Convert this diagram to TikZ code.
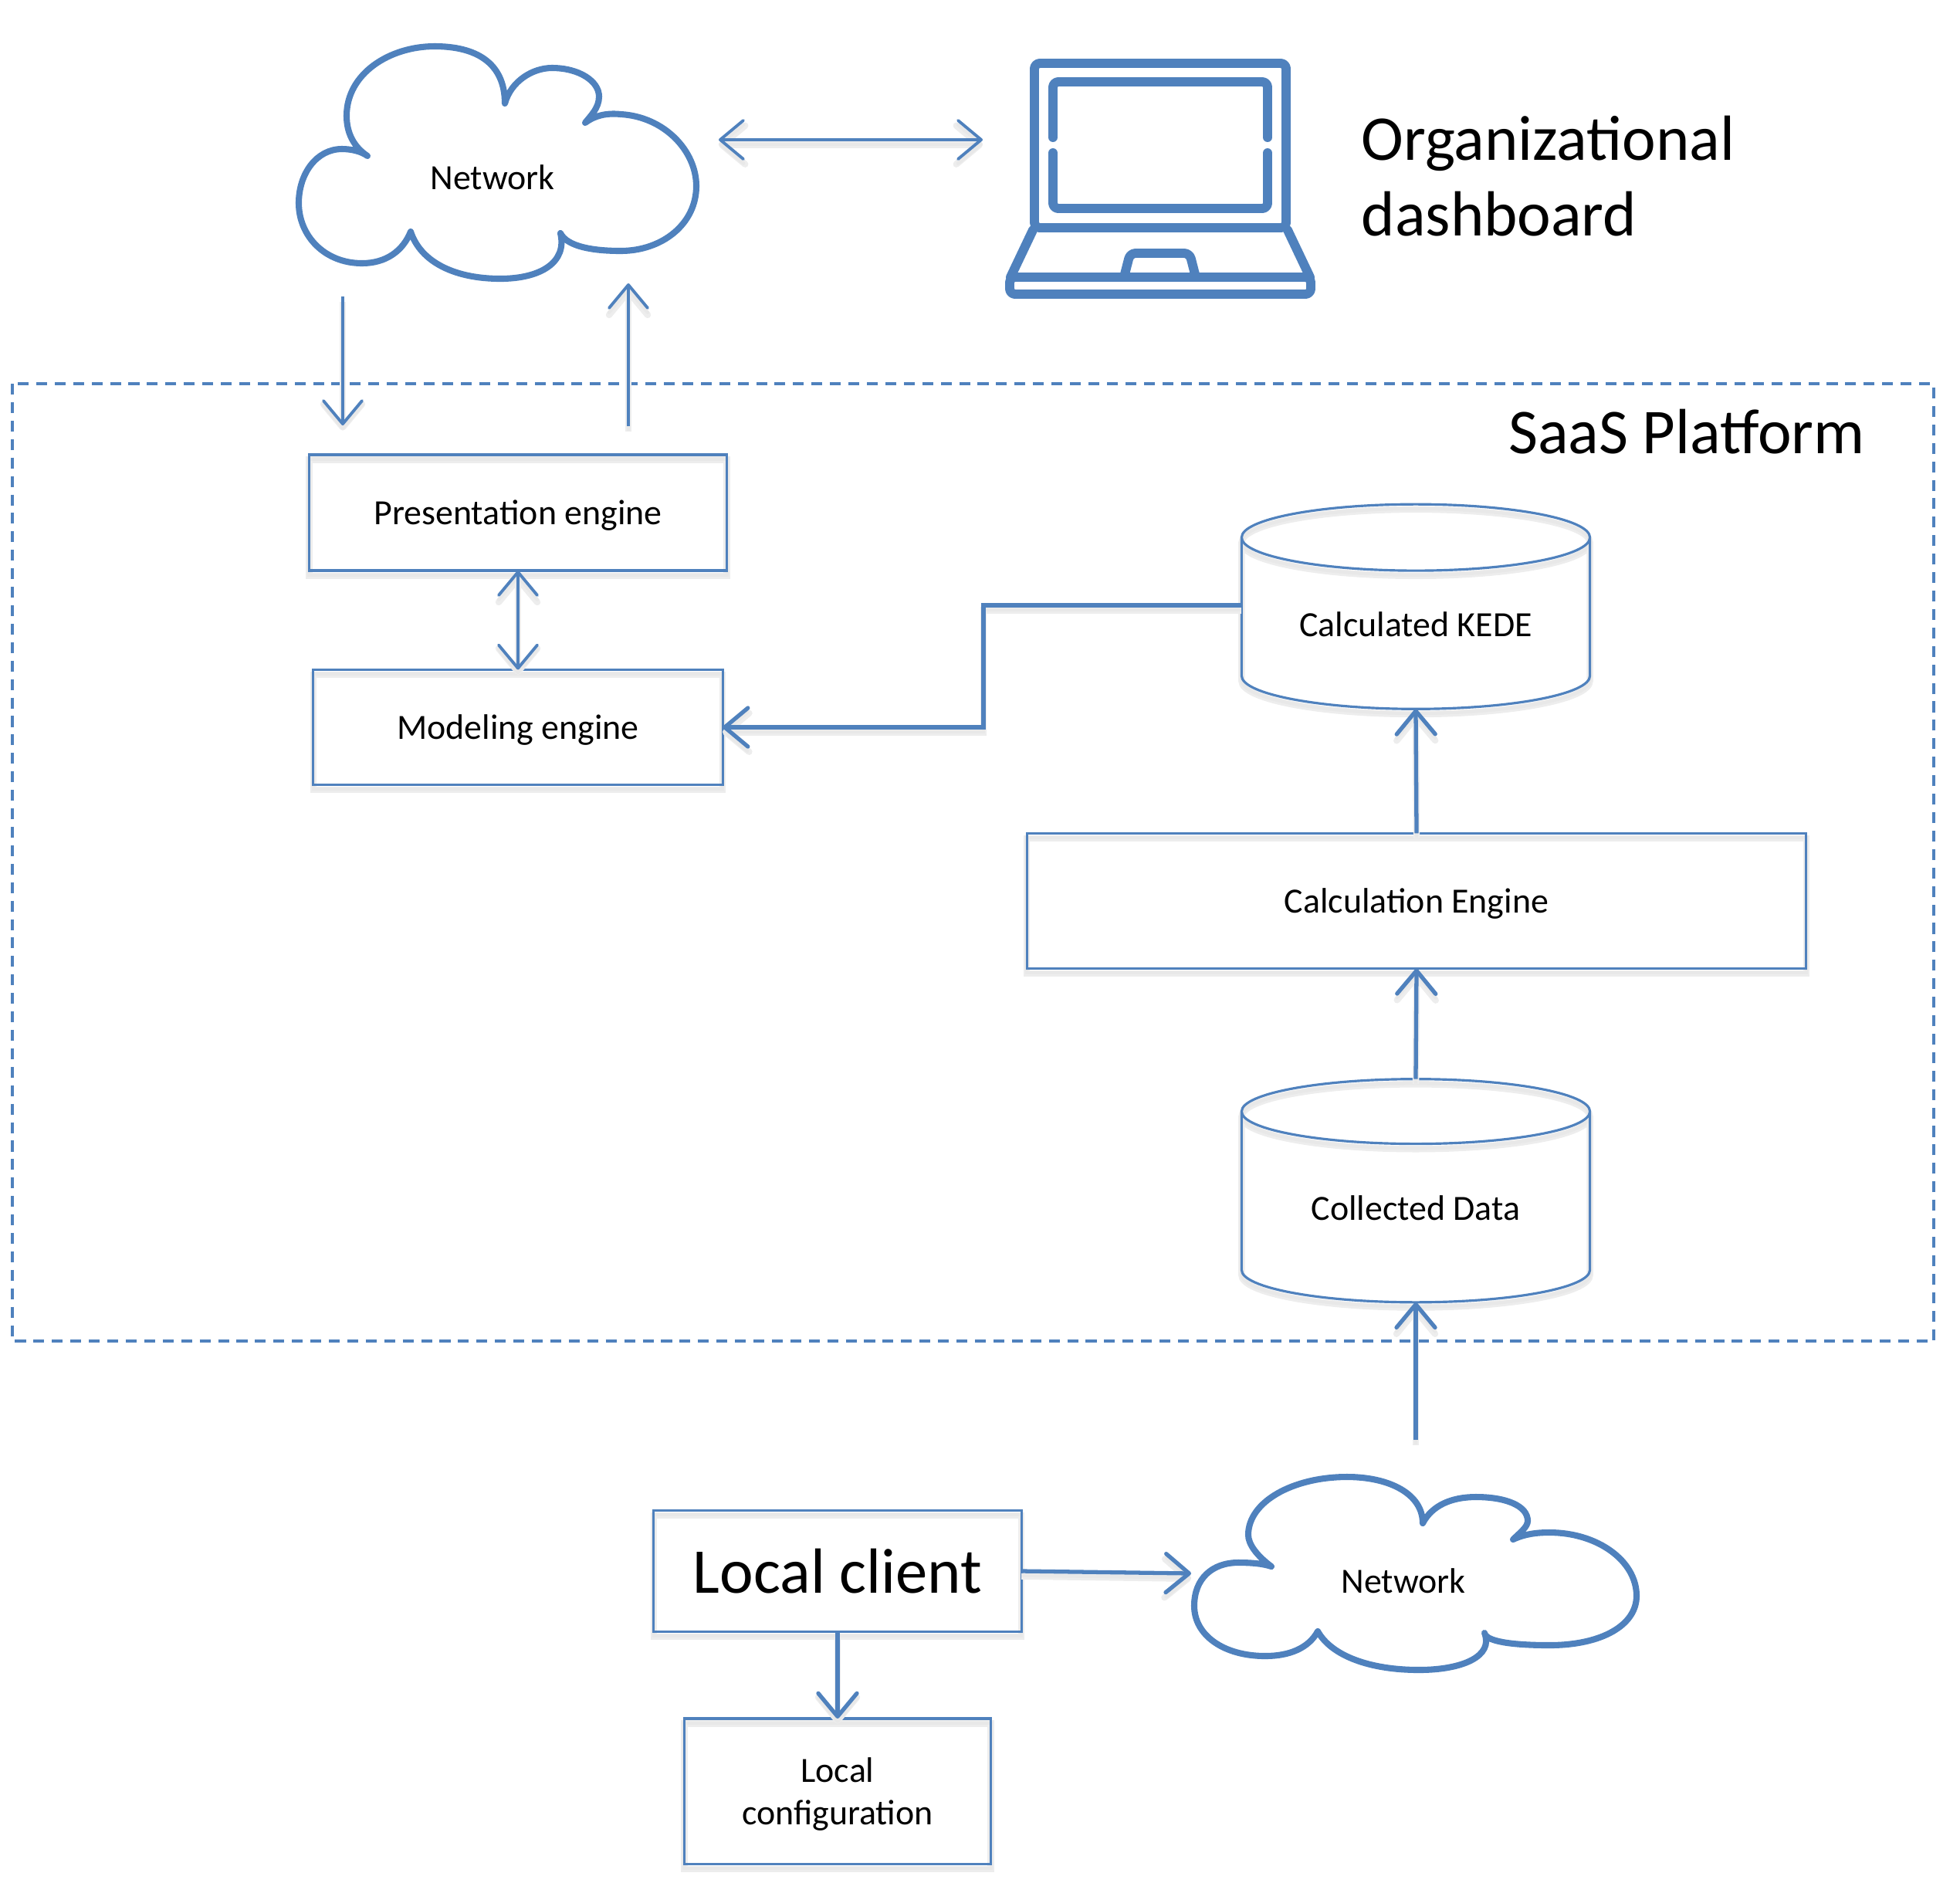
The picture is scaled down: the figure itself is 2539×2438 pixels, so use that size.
\documentclass[tikz,border=0pt]{standalone}
\usepackage{fontspec}
\setmainfont{Carlito}
\usetikzlibrary{arrows.meta,shapes.geometric}
\definecolor{kedeblue}{HTML}{4F81BD}
\tikzset{
  softshadow/.style={preaction={draw=black!7,line width=2.4pt,transform canvas={yshift=-1.9pt}},
                     preaction={draw=black!9,line width=1.2pt,transform canvas={yshift=-1.6pt}}},
  box/.style={draw=kedeblue,line width=0.9pt,softshadow,align=center,outer sep=0pt,inner sep=0pt,text depth=0pt},
  store/.style={box,cylinder,shape border rotate=90,shape aspect=0.285,minimum width=4.51cm,text height=0.32cm},
  thinlink/.style={draw=kedeblue,line width=1.1pt,>={Straight Barb[length=0.3cm,width=0.5cm,round]}},
  thicklink/.style={draw=kedeblue,line width=1.5pt,>={Straight Barb[length=0.3cm,width=0.5cm,round]}},
  laptop/.style={draw=kedeblue,line width=3.4pt,line cap=round,line join=round,rounded corners=2pt},
  cloudline/.style={draw=kedeblue,line width=2.3pt,line join=round},
  smalltext/.style={font=\fontsize{13.05}{15.7}\selectfont},
  bigtext/.style={font=\fontsize{23.5}{28}\selectfont},
}
\begin{document}
\begin{tikzpicture}[x=0.01cm,y=-0.01cm]
  \useasboundingbox (0,0) rectangle (2539,2438);
  % the platform frame
  \draw[kedeblue,line width=0.9pt,dash pattern=on 4pt off 2.8pt] (16,497) rectangle (2505,1737);
  \node[bigtext] (saas) at (2185,559) {SaaS Platform};

  % upper cloud
  \draw[cloudline] (476,202) .. controls (458,190) and (449,172) .. (449,150)
    .. controls (449,95) and (505,60) .. (563,60) .. controls (615,60) and (654,80) .. (654,134)
    .. controls (662,105) and (690,88) .. (715,88) .. controls (750,88) and (776,105) .. (776,125)
    .. controls (776,140) and (765,150) .. (758,159) .. controls (770,150) and (785,146) .. (804,148)
    .. controls (860,151) and (902,195) .. (902,241) .. controls (902,290) and (858,325) .. (804,325)
    .. controls (770,325) and (735,320) .. (726,302) .. controls (735,340) and (700,361) .. (648,361)
    .. controls (590,361) and (545,340) .. (532,300) .. controls (522,325) and (500,341) .. (469,341)
    .. controls (420,341) and (387,305) .. (387,263) .. controls (387,225) and (410,193) .. (443,193)
    .. controls (455,193) and (468,196) .. (476,202) -- cycle;
  \node[smalltext] (nettop) at (638,230) {Network};

  % lower cloud
  \draw[cloudline] (1647,2029) .. controls (1628,2015) and (1617,2000) .. (1617,1988)
    .. controls (1617,1945) and (1675,1913) .. (1745,1913) .. controls (1800,1913) and (1843,1935) .. (1843,1973)
    .. controls (1855,1950) and (1880,1939) .. (1912,1939) .. controls (1950,1939) and (1979,1950) .. (1979,1970)
    .. controls (1979,1978) and (1968,1986) .. (1960,1994) .. controls (1975,1987) and (1990,1985) .. (2007,1985)
    .. controls (2070,1985) and (2120,2022) .. (2120,2067) .. controls (2120,2105) and (2075,2131) .. (2007,2131)
    .. controls (1970,2131) and (1925,2128) .. (1923,2115) .. controls (1935,2145) and (1895,2163) .. (1838,2163)
    .. controls (1775,2163) and (1725,2145) .. (1707,2113) .. controls (1695,2135) and (1670,2145) .. (1639,2145)
    .. controls (1585,2145) and (1547,2118) .. (1547,2080) .. controls (1547,2045) and (1570,2024) .. (1604,2024)
    .. controls (1620,2024) and (1635,2025) .. (1647,2029) -- cycle;
  \node[smalltext] (netlow) at (1818,2048) {Network};

  % the laptop
  \draw[laptop] (1340,82) rectangle (1666,295);
  \foreach \ya/\yb in {106/178,270/198}
    \draw[laptop] (1364,\yb) -- (1364,\ya) -- (1642,\ya) -- (1642,\yb);
  \draw[laptop] (1338,298) -- (1309,359);
  \draw[laptop] (1668,298) -- (1697,359);
  \draw[laptop] (1308,359) rectangle (1698,381);
  \draw[laptop] (1456,359) -- (1464,328) -- (1541,328) -- (1549,359);
  \node[bigtext,align=left,anchor=west,inner sep=0pt] (dash) at (1763,228) {Organizational\\dashboard};

  % engines and stores
  \node[box,smalltext,minimum width=5.41cm,minimum height=1.5cm] (present) at (671,664) {Presentation engine};
  \node[box,smalltext,minimum width=5.3cm,minimum height=1.49cm] (model) at (671,942) {Modeling engine};
  \node[box,smalltext,minimum width=10.09cm,minimum height=1.75cm] (calc) at (1835,1167) {Calculation Engine};
  \node[store,smalltext,minimum height=2.65cm] (kede) at (1834,808) {Calculated KEDE};
  \node[store,smalltext,minimum height=2.89cm,shape aspect=0.31] (data) at (1834,1564) {Collected Data};
  \node[box,bigtext,minimum width=4.76cm,minimum height=1.57cm] (client) at (1085,2035) {Local client};
  \node[box,smalltext,minimum width=3.97cm,minimum height=1.88cm] (config) at (1085,2320) {Local\\configuration};

  % free ends of the links
  \coordinate (toplink1) at (931,181);
  \coordinate (toplink2) at (1273,181);
  \coordinate (down1) at (444,384);
  \coordinate (down2) at (444,551);
  \coordinate (up1) at (814,552);
  \coordinate (up2) at (814,367);
  \coordinate (feed) at (1834,1865);
  \coordinate (bend1) at (1274,784);
  \coordinate (cloudin) at (1543,2038);

  \draw[thinlink,softshadow,<->] (toplink1) -- (toplink2);
  \draw[thinlink,softshadow,->] (down1) -- (down2);
  \draw[thinlink,softshadow,->] (up1) -- (up2);
  \draw[thinlink,softshadow,<->] (present) -- (model);
  \draw[thicklink,softshadow,->] (kede.west |- bend1) -- (bend1) |- (model);
  \draw[thicklink,softshadow,->] (calc.north) -- (kede.south);
  \draw[thicklink,softshadow,->] (data.north) -- (calc.south);
  \draw[thicklink,softshadow,->] (feed) -- (data.south);
  \draw[thicklink,softshadow,->] (client.east) -- (cloudin);
  \draw[thicklink,softshadow,->] (client) -- (config);
\end{tikzpicture}
\end{document}
